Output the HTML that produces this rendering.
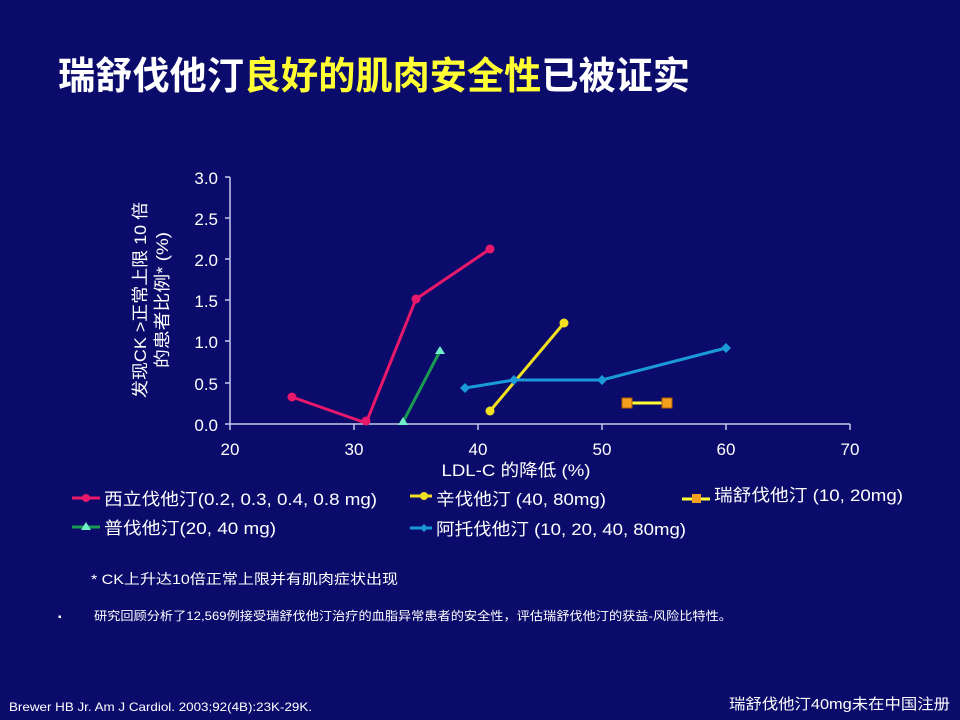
<!DOCTYPE html>
<html><head><meta charset="utf-8"><style>
body{margin:0;width:960px;height:720px;background:#0b0b6b;overflow:hidden;font-family:"Liberation Sans","Noto Sans CJK SC",sans-serif;}
svg{position:absolute;left:0;top:0}
</style></head><body>
<svg width="960" height="720" viewBox="0 0 960 720" font-family="Liberation Sans, Noto Sans CJK SC, sans-serif">
<text x="58" y="89" font-size="38" font-weight="bold" fill="#fff" textLength="632" lengthAdjust="spacingAndGlyphs">瑞舒伐他汀<tspan fill="#ffff33">良好的肌肉安全性</tspan>已被证实</text>
<g stroke="#c8c8ee" stroke-width="1.5" fill="none">
<line x1="230" y1="177" x2="230" y2="424"/>
<line x1="230" y1="424" x2="850" y2="424"/>
<line x1="225" y1="177" x2="230" y2="177"/><line x1="225" y1="218" x2="230" y2="218"/><line x1="225" y1="259" x2="230" y2="259"/><line x1="225" y1="300" x2="230" y2="300"/><line x1="225" y1="341" x2="230" y2="341"/><line x1="225" y1="383" x2="230" y2="383"/><line x1="225" y1="424" x2="230" y2="424"/>
<line x1="230" y1="424" x2="230" y2="430"/><line x1="354" y1="424" x2="354" y2="430"/><line x1="478" y1="424" x2="478" y2="430"/><line x1="602" y1="424" x2="602" y2="430"/><line x1="726" y1="424" x2="726" y2="430"/><line x1="850" y1="424" x2="850" y2="430"/>
</g>
<g fill="#fff" font-size="17" text-anchor="end">
<text x="218" y="184">3.0</text><text x="218" y="225">2.5</text><text x="218" y="266">2.0</text><text x="218" y="307">1.5</text><text x="218" y="348">1.0</text><text x="218" y="390">0.5</text><text x="218" y="431">0.0</text>
</g>
<g fill="#fff" font-size="17" text-anchor="middle">
<text x="230" y="455">20</text><text x="354" y="455">30</text><text x="478" y="455">40</text><text x="602" y="455">50</text><text x="726" y="455">60</text><text x="850" y="455">70</text>
<text x="516" y="476" textLength="149" lengthAdjust="spacingAndGlyphs">LDL-C 的降低 (%)</text>
</g>
<g fill="#fff" font-size="17" text-anchor="middle">
<text transform="translate(146,300) rotate(-90)" textLength="196" lengthAdjust="spacingAndGlyphs">发现CK &gt;正常上限 10 倍</text>
<text transform="translate(168,300) rotate(-90)" textLength="136" lengthAdjust="spacingAndGlyphs">的患者比例* (%)</text>
</g>
<polyline points="292,397 366,423 416,299 490,249" stroke="#e8186a" stroke-width="3" fill="none"/>
<g fill="#e8186a"><circle cx="292" cy="397" r="4.5"/><circle cx="366" cy="421" r="4.5"/><circle cx="416" cy="299" r="4.5"/><circle cx="490" cy="249" r="4.5"/></g>
<polyline points="403,422 440,351" stroke="#1a9a50" stroke-width="3" fill="none"/>
<g fill="#70f0c8"><polygon points="403,417 398,425 408,425"/><polygon points="440,346 435,354 445,354"/></g>
<polyline points="490,411 564,323" stroke="#f0e020" stroke-width="3" fill="none"/>
<g fill="#f0e020"><circle cx="490" cy="411" r="4.5"/><circle cx="564" cy="323" r="4.5"/></g>
<polyline points="465,388 514,380 602,380 726,348" stroke="#1a9ad8" stroke-width="3" fill="none"/>
<g fill="#1a9ad8"><polygon points="465,383 470,388 465,393 460,388"/><polygon points="514,375 519,380 514,385 509,380"/><polygon points="602,375 607,380 602,385 597,380"/><polygon points="726,343 731,348 726,353 721,348"/></g>
<line x1="627" y1="403" x2="667" y2="403" stroke="#ffff33" stroke-width="3"/>
<g fill="#f5a020" stroke="#b06000" stroke-width="1"><rect x="622" y="398" width="10" height="10"/><rect x="662" y="398" width="10" height="10"/></g>
<line x1="72" y1="498" x2="100" y2="498" stroke="#e8186a" stroke-width="3"/><circle cx="86" cy="498" r="4" fill="#e8186a"/>
<text x="104" y="505" fill="#fff" font-size="17" textLength="273" lengthAdjust="spacingAndGlyphs">西立伐他汀(0.2, 0.3, 0.4, 0.8 mg)</text>
<line x1="72" y1="527" x2="100" y2="527" stroke="#1a9a50" stroke-width="3"/><polygon points="86,522 81,530 91,530" fill="#70f0c8"/>
<text x="104" y="534" fill="#fff" font-size="17" textLength="172" lengthAdjust="spacingAndGlyphs">普伐他汀(20, 40 mg)</text>
<line x1="410" y1="496" x2="432" y2="496" stroke="#f0e020" stroke-width="3"/><circle cx="424" cy="496" r="4" fill="#f0e020"/>
<text x="436" y="505" fill="#fff" font-size="17" textLength="170" lengthAdjust="spacingAndGlyphs">辛伐他汀 (40, 80mg)</text>
<line x1="410" y1="528" x2="432" y2="528" stroke="#1a9ad8" stroke-width="3"/><polygon points="424,524 428,528 424,532 420,528" fill="#1a9ad8"/>
<text x="436" y="535" fill="#fff" font-size="17" textLength="250" lengthAdjust="spacingAndGlyphs">阿托伐他汀 (10, 20, 40, 80mg)</text>
<line x1="682" y1="499" x2="710" y2="499" stroke="#ffff33" stroke-width="3"/><rect x="692" y="494" width="9" height="9" fill="#f5a020"/>
<text x="714" y="501" fill="#fff" font-size="17" textLength="189" lengthAdjust="spacingAndGlyphs">瑞舒伐他汀 (10, 20mg)</text>
<text x="91" y="584" fill="#fff" font-size="14" textLength="307" lengthAdjust="spacingAndGlyphs">* CK上升达10倍正常上限并有肌肉症状出现</text>
<text x="58" y="620" fill="#fff" font-size="10">▪</text>
<text x="94" y="620" fill="#fff" font-size="12" textLength="638" lengthAdjust="spacingAndGlyphs">研究回顾分析了12,569例接受瑞舒伐他汀治疗的血脂异常患者的安全性，评估瑞舒伐他汀的获益-风险比特性。</text>
<text x="9" y="711" fill="#fff" font-size="12" textLength="303" lengthAdjust="spacingAndGlyphs">Brewer HB Jr. Am J Cardiol. 2003;92(4B):23K-29K.</text>
<text x="729" y="709" fill="#fff" font-size="15" textLength="221" lengthAdjust="spacingAndGlyphs">瑞舒伐他汀40mg未在中国注册</text>
</svg>
</body></html>
